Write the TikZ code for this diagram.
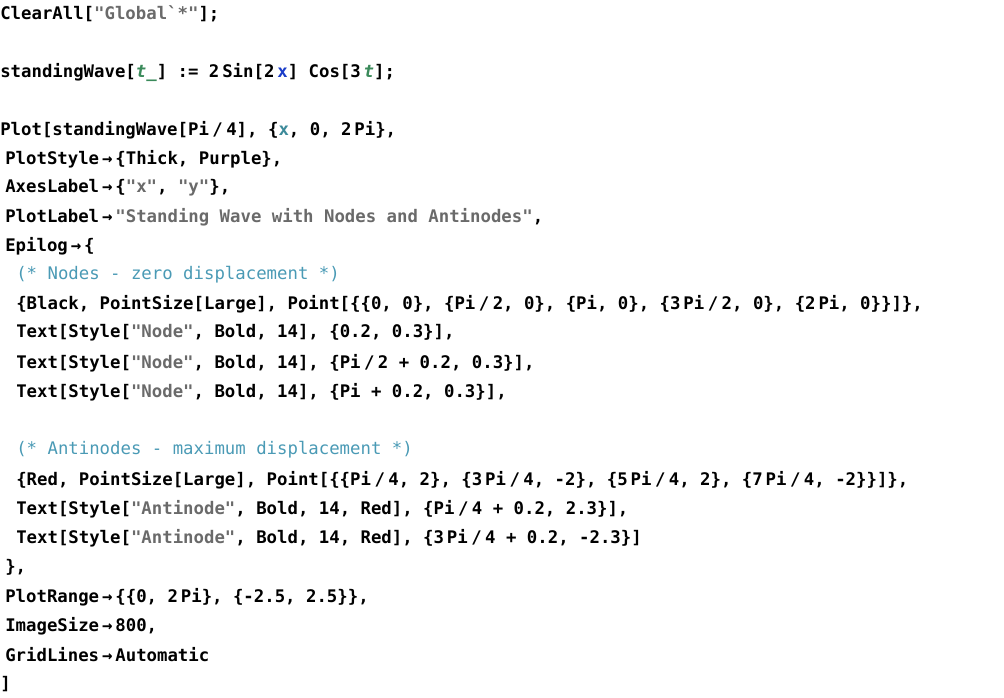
\documentclass[tikz,border=0pt]{standalone}
\usepackage{fontspec}
\newfontfamily\codefont{DejaVu Sans Mono}
\usepackage{tikz}
\definecolor{strgray}{HTML}{6A6A6A}
\definecolor{cmtblue}{HTML}{4A9AB5}
\definecolor{vargreen}{HTML}{3A8A5A}
\definecolor{varblue}{HTML}{1A3CC8}
\definecolor{varteal}{HTML}{3C8A9A}
\newcommand{\str}[1]{\textcolor{strgray}{#1}}
\newcommand{\cmt}[1]{\textcolor{cmtblue}{\mdseries #1}}
\newcommand{\ra}{\,\char"2192\,}
\newcommand{\ov}{\hspace{0.2em}/\hspace{0.2em}}
\begin{document}
\begin{tikzpicture}[x=0.75pt, y=-0.75pt,
    code/.style={anchor=west, inner sep=0pt, font=\codefont\bfseries\fontsize{13}{15}\selectfont}]
        \useasboundingbox (0,0) rectangle (1004,697);
        % Lines
        \node[code] (l1) at (0, 14) {ClearAll[\str{"Global\symbol{96}*"}];};
        \node[code] (l3) at (0, 72) {standingWave[\textcolor{vargreen}{\itshape t\_}] := 2\,Sin[2\,\textcolor{varblue}{x}] Cos[3\,\textcolor{vargreen}{\itshape t}];};
        \node[code] (l5) at (0, 130) {Plot[standingWave[Pi\ov 4], \{\textcolor{varteal}{x}, 0, 2\,Pi\},};
        \node[code] (l6) at (5, 159) {PlotStyle\ra\{Thick, Purple\},};
        \node[code] (l7) at (5, 188) {AxesLabel\ra\{\str{"x"}, \str{"y"}\},};
        \node[code] (l8) at (5, 217) {PlotLabel\ra\str{"Standing Wave with Nodes and Antinodes"},};
        \node[code] (l9) at (5, 246) {Epilog\ra\{};
        \node[code] (l10) at (16, 275) {\cmt{(* Nodes - zero displacement *)}};
        \node[code] (l11) at (16, 304) {\{Black, PointSize[Large], Point[\{\{0, 0\}, \{Pi\ov 2, 0\}, \{Pi, 0\}, \{3\,Pi\ov 2, 0\}, \{2\,Pi, 0\}\}]\},};
        \node[code] (l12) at (16, 333) {Text[Style[\str{"Node"}, Bold, 14], \{0.2, 0.3\}],};
        \node[code] (l13) at (16, 363) {Text[Style[\str{"Node"}, Bold, 14], \{Pi\ov 2 + 0.2, 0.3\}],};
        \node[code] (l14) at (16, 392) {Text[Style[\str{"Node"}, Bold, 14], \{Pi + 0.2, 0.3\}],};
        \node[code] (l16) at (16, 450) {\cmt{(* Antinodes - maximum displacement *)}};
        \node[code] (l17) at (16, 480) {\{Red, PointSize[Large], Point[\{\{Pi\ov 4, 2\}, \{3\,Pi\ov 4, -2\}, \{5\,Pi\ov 4, 2\}, \{7\,Pi\ov 4, -2\}\}]\},};
        \node[code] (l18) at (16, 509) {Text[Style[\str{"Antinode"}, Bold, 14, Red], \{Pi\ov 4 + 0.2, 2.3\}],};
        \node[code] (l19) at (16, 538) {Text[Style[\str{"Antinode"}, Bold, 14, Red], \{3\,Pi\ov 4 + 0.2, -2.3\}]};
        \node[code] (l20) at (5, 567) {\},};
        \node[code] (l21) at (5, 597) {PlotRange\ra\{\{0, 2\,Pi\}, \{-2.5, 2.5\}\},};
        \node[code] (l22) at (5, 626) {ImageSize\ra 800,};
        \node[code] (l23) at (5, 655) {GridLines\ra Automatic};
        \node[code] (l24) at (0, 684) {]};
\end{tikzpicture}
\end{document}
